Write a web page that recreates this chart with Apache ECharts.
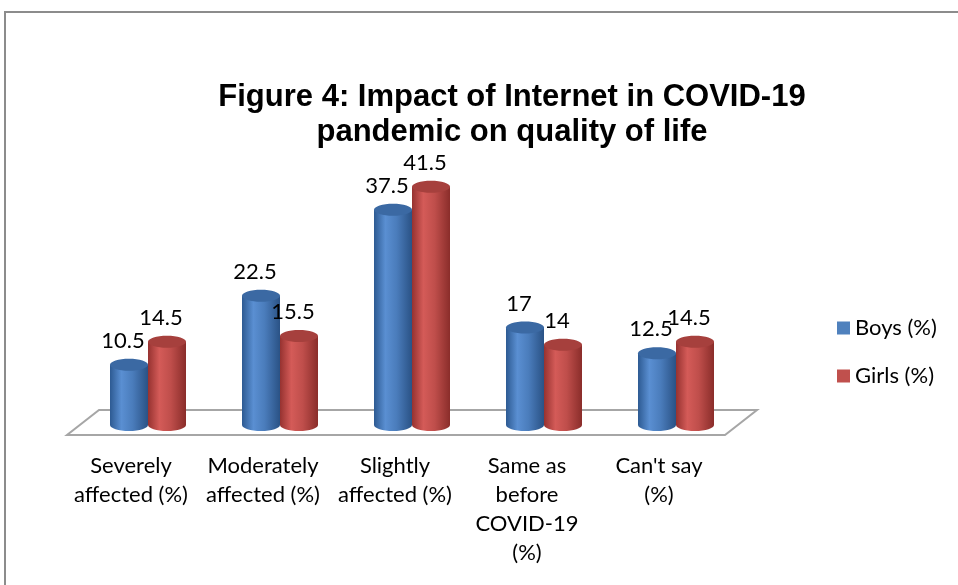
<!DOCTYPE html>
<html><head><meta charset="utf-8">
<script src="https://cdn.jsdelivr.net/npm/echarts@6/dist/echarts.min.js"></script>
<style>html,body{margin:0;padding:0;background:#fff}#c{width:958px;height:585px}</style>
</head><body><div id="c"></div>
<script>
var categories = ['Severely\naffected (%)', 'Moderately\naffected (%)', 'Slightly\naffected (%)', 'Same as\nbefore\nCOVID-19\n(%)', "Can't say\n(%)"];
var boys = [10.5, 22.5, 37.5, 17, 12.5];
var girls = [14.5, 15.5, 41.5, 14, 14.5];
var seriesNames = ['Boys (%)', 'Girls (%)'];
var titleText = 'Figure 4: Impact of Internet in COVID-19\npandemic on quality of life';

var FONT = 'Lato';
var DEPTH_X = 32, DEPTH_Y = -25;   // floor depth (3D look)
var BAR_DX = 17, BAR_DY = -10;     // bars sit mid-depth
var BAR_W = 38;

var palettes = [
  {body: ['#2d5a92', '#5a8fd2', '#4a7cbb', '#2a5285'], top: '#3b69a3', base: '#4F81BD'},
  {body: ['#963230', '#d45b58', '#bf4e4b', '#8a2d2a'], top: '#a6403d', base: '#C0504D'}
];

function cylinderRender(si) {
  return function (params, api) {
    var idx = api.value(0), v = api.value(1);
    var p = api.coord([idx, v]);
    var b = api.coord([idx, 0]);
    var off = (si === 0 ? -BAR_W / 2 : BAR_W / 2);
    var cx = p[0] + BAR_DX + off;
    var ty = p[1] + BAR_DY, by = b[1] + BAR_DY;
    var rx = BAR_W / 2, ry = 6;
    var pal = palettes[si];
    var grad = new echarts.graphic.LinearGradient(0, 0, 1, 0, [
      {offset: 0, color: pal.body[0]}, {offset: 0.3, color: pal.body[1]},
      {offset: 0.6, color: pal.body[2]}, {offset: 1, color: pal.body[3]}]);
    var label = String(v);
    return {
      type: 'group',
      children: [
        {type: 'ellipse', shape: {cx: cx, cy: by, rx: rx, ry: ry}, style: {fill: grad}},
        {type: 'rect', shape: {x: cx - rx, y: ty, width: BAR_W, height: by - ty}, style: {fill: grad}},
        {type: 'ellipse', shape: {cx: cx, cy: ty, rx: rx, ry: ry}, style: {fill: pal.top}},
        {type: 'text', x: cx - 6, y: ty - 13, style: {text: label, fontFamily: FONT, fontSize: 22, fill: '#000', align: 'center', verticalAlign: 'bottom'}}
      ]
    };
  };
}

function floorRender(params, api) {
  var cs = params.coordSys;
  var x0 = cs.x + 2, x1 = cs.x + cs.width, y0 = cs.y + cs.height;
  return {
    type: 'polygon',
    shape: {points: [[x0, y0], [x1, y0], [x1 + DEPTH_X, y0 + DEPTH_Y], [x0 + DEPTH_X, y0 + DEPTH_Y]]},
    style: {fill: '#fff', stroke: '#a6a6a6', lineWidth: 2},
    silent: true
  };
}

var chart = echarts.init(document.getElementById('c'), null, {renderer: 'canvas'});
chart.setOption({
  animation: false,
  backgroundColor: '#fff',
  graphic: [{type: 'rect', shape: {x: 5, y: 12, width: 1000, height: 700}, style: {fill: 'none', stroke: '#8c8c8c', lineWidth: 2}, z: -10, silent: true}],
  title: {
    text: titleText, left: 512, top: 80, padding: 0, textAlign: 'center',
    textStyle: {fontFamily: 'Liberation Sans', fontWeight: 'bold', fontSize: 31, lineHeight: 35, color: '#000'}
  },
  legend: {
    data: seriesNames, orient: 'vertical', left: 832, top: 311, itemWidth: 13, itemHeight: 13, itemGap: 24, icon: 'rect',
    textStyle: {fontFamily: FONT, fontSize: 22, lineHeight: 24, color: '#000'}
  },
  grid: {left: 65, width: 660, top: 148, height: 287},
  xAxis: {
    type: 'category', data: categories,
    axisLine: {show: false}, axisTick: {show: false},
    axisLabel: {interval: 0, margin: 16, fontFamily: FONT, fontSize: 22, lineHeight: 29, color: '#000', align: 'center'}
  },
  yAxis: {type: 'value', min: 0, max: 50, show: false, splitLine: {show: false}},
  series: [
    {type: 'custom', name: 'floor', renderItem: floorRender, data: [[0, 0]], silent: true, z: 1},
    {type: 'custom', name: seriesNames[0], itemStyle: {color: '#4F81BD'}, renderItem: cylinderRender(0),
      data: boys.map(function (v, i) { return [i, v]; }), encode: {x: 0, y: 1}, z: 2},
    {type: 'custom', name: seriesNames[1], itemStyle: {color: '#C0504D'}, renderItem: cylinderRender(1),
      data: girls.map(function (v, i) { return [i, v]; }), encode: {x: 0, y: 1}, z: 3}
  ]
});
</script></body></html>
